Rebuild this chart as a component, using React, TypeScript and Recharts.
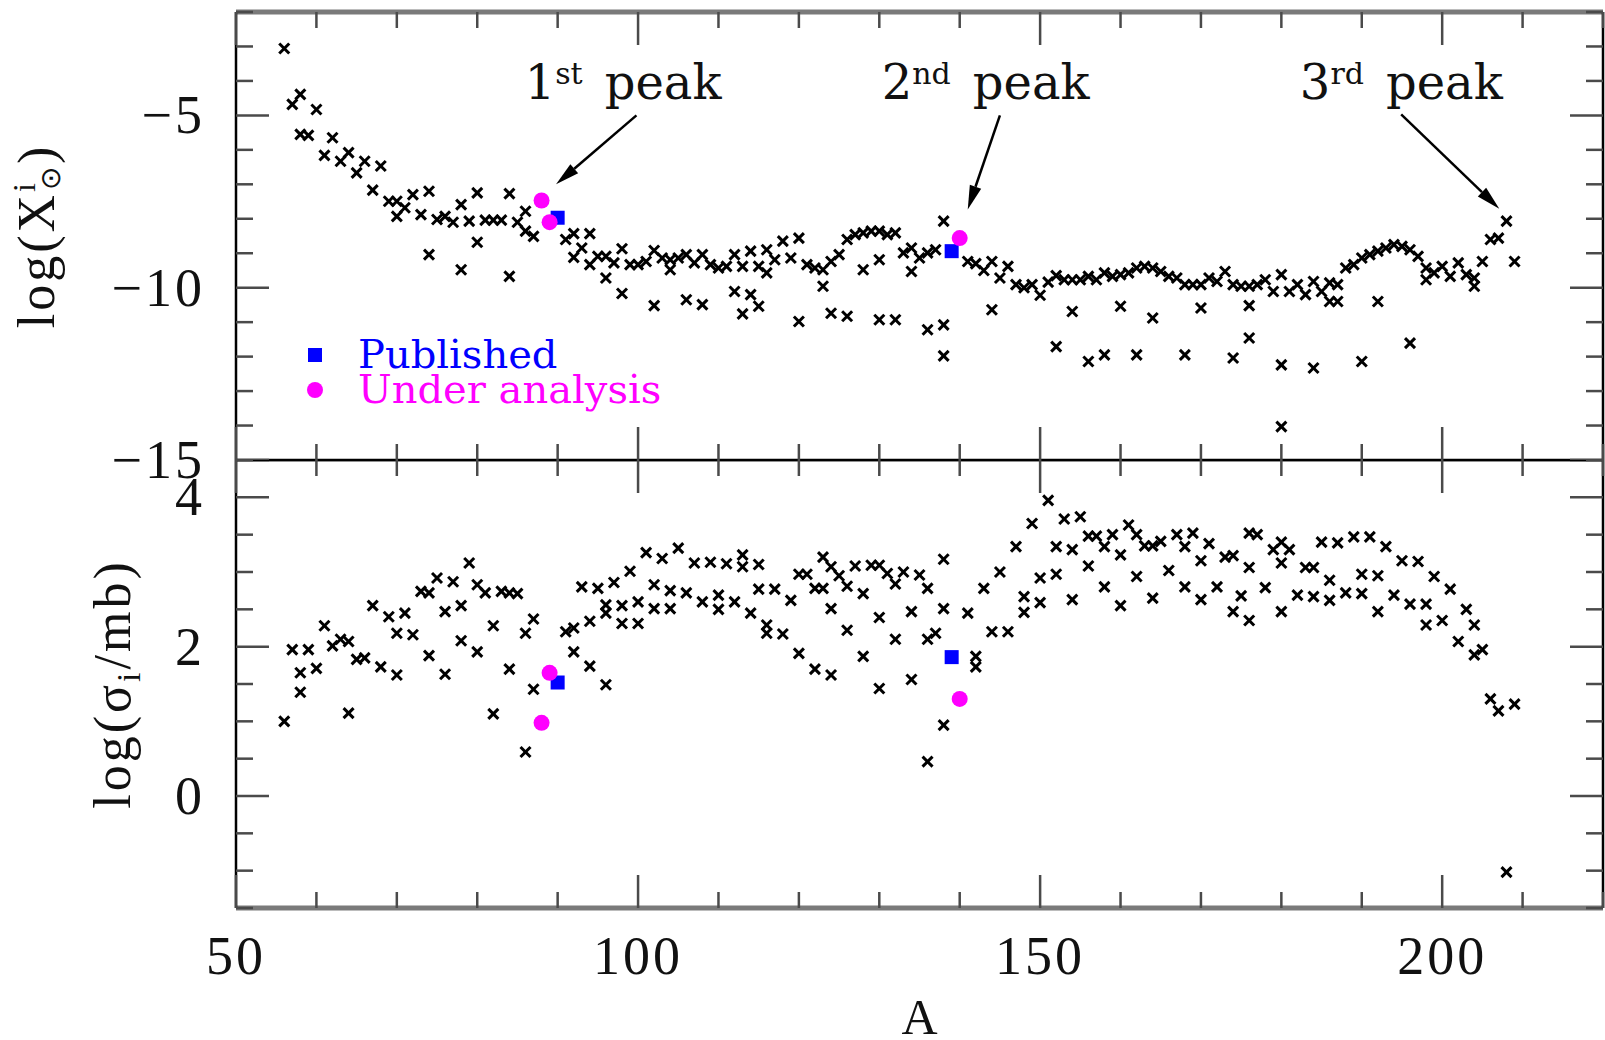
import React from 'react';
import { ScatterChart, Scatter, XAxis, YAxis, ReferenceLine, ReferenceDot, Legend } from 'recharts';

// ---- ticks ----
const xTicks = [50, 60, 70, 80, 90, 100, 110, 120, 130, 140, 150, 160, 170, 180, 190, 200, 210, 220];
const xLabelTicks = [50, 100, 150, 200];
const topYTicks = [-15, -14, -13, -12, -11, -10, -9, -8, -7, -6, -5, -4, -3, -2];
const topYLabels = [-15, -10, -5];
const bottomYTicks = [-1.5, -1, -0.5, 0, 0.5, 1, 1.5, 2, 2.5, 3, 3.5, 4, 4.5];
const bottomYLabels = [0, 2, 4];

// ---- top panel: log(X) solar abundances, [A, value] ----
const solarAbundance: [number, number][] = [
  [56, -3.06], [57, -4.68], [58, -4.39], [58, -5.55], [59, -5.58], [60, -4.83], [61, -6.16], [62, -5.65],
  [63, -6.33], [64, -6.08], [65, -6.67], [66, -6.33], [67, -7.17], [68, -6.47], [69, -7.49], [70, -7.49],
  [70, -7.93], [71, -7.68], [72, -7.3], [73, -7.88], [74, -7.2], [74, -9.04], [75, -8.02], [76, -7.93],
  [77, -8.1], [78, -7.59], [78, -9.48], [79, -8.07], [80, -7.25], [80, -8.68], [81, -8.04], [82, -8.04],
  [83, -8.04], [84, -7.27], [84, -9.67], [85, -8.1], [86, -7.78], [86, -8.36], [87, -8.51], [91, -8.6],
  [92, -8.43], [92, -9.12], [93, -8.85], [94, -8.43], [94, -9.33], [95, -9.09], [96, -9.09], [96, -9.72],
  [97, -9.28], [98, -8.87], [98, -10.17], [99, -9.33], [100, -9.33], [101, -9.24], [102, -8.92], [102, -10.52],
  [103, -9.14], [104, -9.19], [104, -9.48], [105, -9.14], [106, -9.04], [106, -10.35], [107, -9.28], [108, -9.04],
  [108, -10.49], [109, -9.33], [110, -9.43], [111, -9.38], [112, -9.04], [112, -10.11], [113, -9.38], [113, -10.76],
  [114, -8.94], [114, -10.2], [115, -9.38], [115, -10.54], [116, -8.9], [116, -9.57], [117, -9.19], [118, -8.65],
  [119, -9.14], [120, -8.56], [120, -10.98], [121, -9.33], [122, -9.43], [123, -9.48], [123, -9.96], [124, -9.24],
  [124, -10.74], [125, -9.04], [126, -8.6], [126, -10.83], [127, -8.46], [128, -8.41], [128, -9.48], [129, -8.36],
  [130, -8.36], [130, -9.19], [130, -10.93], [131, -8.46], [132, -8.41], [132, -10.93], [133, -8.99], [134, -8.85],
  [134, -9.53], [135, -9.14], [136, -8.99], [136, -11.22], [137, -8.9], [138, -8.07], [138, -11.08], [138, -11.98],
  [141, -9.24], [142, -9.3], [143, -9.5], [144, -9.24], [144, -10.64], [145, -9.72], [146, -9.38], [147, -9.91],
  [148, -10.0], [149, -9.91], [150, -10.22], [151, -9.84], [152, -9.65], [152, -11.71], [153, -9.77], [154, -9.77],
  [154, -10.69], [155, -9.77], [156, -9.67], [156, -12.14], [157, -9.77], [158, -9.57], [158, -11.95], [159, -9.67],
  [160, -9.62], [160, -10.54], [161, -9.57], [162, -9.43], [162, -11.95], [163, -9.38], [164, -9.43], [164, -10.88],
  [165, -9.53], [166, -9.67], [167, -9.72], [168, -9.91], [168, -11.95], [169, -9.91], [170, -9.91], [170, -10.59],
  [171, -9.72], [172, -9.82], [173, -9.53], [174, -9.91], [174, -12.04], [175, -9.96], [176, -9.96], [176, -10.52],
  [176, -11.46], [177, -9.91], [178, -9.77], [179, -10.11], [180, -9.62], [180, -12.24], [180, -14.03], [181, -10.11],
  [182, -9.91], [183, -10.2], [184, -9.82], [184, -12.33], [185, -10.11], [186, -9.86], [186, -10.4], [187, -9.91],
  [187, -10.4], [188, -9.43], [189, -9.33], [190, -9.14], [190, -12.14], [191, -9.04], [192, -8.94], [192, -10.4],
  [193, -8.85], [194, -8.75], [195, -8.8], [196, -8.9], [196, -11.61], [197, -9.09], [198, -9.43], [198, -9.77],
  [199, -9.57], [200, -9.38], [201, -9.67], [202, -9.28], [203, -9.62], [204, -9.72], [204, -9.96], [205, -9.24],
  [206, -8.6], [207, -8.56], [208, -8.07], [209, -9.24],
];
const publishedAbundance: [number, number][] = [[90, -7.97], [139, -8.94]];
const analysisAbundance: [number, number][] = [[88, -7.47], [89, -8.1], [140, -8.56]];

// ---- bottom panel: log(sigma/mb), [A, value] ----
const macs: [number, number][] = [
  [56, 1.0], [57, 1.96], [58, 1.65], [58, 1.39], [59, 1.96], [60, 1.71], [61, 2.28], [62, 2.01], [63, 2.1],
  [64, 2.07], [64, 1.11], [65, 1.83], [66, 1.85], [67, 2.55], [68, 1.73], [69, 2.4], [70, 2.18], [70, 1.62],
  [71, 2.45], [72, 2.16], [73, 2.74], [74, 2.72], [74, 1.88], [75, 2.92], [76, 2.47], [76, 1.63], [77, 2.87],
  [78, 2.55], [78, 2.08], [79, 3.12], [80, 2.83], [80, 1.93], [81, 2.72], [82, 2.28], [82, 1.1], [83, 2.74],
  [84, 2.72], [84, 1.7], [85, 2.71], [86, 2.18], [86, 0.59], [87, 2.37], [87, 1.43], [91, 2.2], [92, 2.25],
  [92, 1.93], [93, 2.8], [94, 2.34], [94, 1.74], [95, 2.78], [96, 2.56], [96, 2.45], [96, 1.49], [97, 2.86],
  [98, 2.55], [98, 2.31], [99, 3.01], [100, 2.6], [100, 2.31], [101, 3.26], [102, 2.83], [102, 2.51], [103, 3.18],
  [104, 2.75], [104, 2.51], [105, 3.32], [106, 2.72], [107, 3.12], [108, 2.6], [109, 3.13], [110, 2.69], [110, 2.5],
  [111, 3.11], [112, 2.6], [113, 3.23], [113, 3.07], [114, 2.45], [115, 3.1], [115, 2.77], [116, 2.29], [116, 2.18],
  [117, 2.77], [118, 2.17], [119, 2.62], [120, 2.97], [120, 1.91], [121, 2.97], [122, 2.78], [122, 1.7], [123, 3.2],
  [123, 2.78], [124, 3.07], [124, 2.51], [124, 1.62], [125, 2.95], [126, 2.81], [126, 2.22], [127, 3.08], [128, 2.71],
  [128, 1.87], [129, 3.09], [130, 3.09], [130, 2.39], [130, 1.44], [131, 2.98], [132, 2.84], [132, 2.1], [133, 3.0],
  [134, 2.47], [134, 1.56], [135, 2.96], [136, 2.78], [136, 2.1], [136, 0.46], [137, 2.18], [138, 3.17], [138, 2.51],
  [138, 0.95], [141, 2.45], [142, 1.87], [142, 1.73], [143, 2.78], [144, 2.2], [145, 3.0], [146, 2.2], [147, 3.34],
  [148, 2.67], [148, 2.46], [149, 3.65], [150, 2.92], [150, 2.59], [151, 3.96], [152, 3.34], [152, 2.97], [153, 3.71],
  [154, 3.3], [154, 2.63], [155, 3.74], [156, 3.48], [156, 3.08], [157, 3.48], [158, 3.34], [158, 2.8], [159, 3.5],
  [160, 3.23], [160, 2.55], [161, 3.63], [162, 3.5], [162, 2.94], [163, 3.35], [164, 3.35], [164, 2.65], [165, 3.41],
  [166, 3.02], [167, 3.5], [168, 3.34], [168, 2.8], [169, 3.52], [170, 3.15], [170, 2.63], [171, 3.38], [172, 2.8],
  [173, 3.2], [174, 3.22], [174, 2.47], [175, 2.68], [176, 3.52], [176, 3.06], [176, 2.35], [177, 3.5], [178, 2.79],
  [179, 3.3], [180, 3.4], [180, 3.12], [180, 2.47], [181, 3.3], [182, 2.69], [183, 3.06], [184, 3.06], [184, 2.67],
  [185, 3.4], [186, 2.89], [186, 2.62], [187, 3.39], [188, 2.72], [189, 3.47], [190, 2.97], [190, 2.71], [191, 3.47],
  [192, 2.95], [192, 2.47], [193, 3.34], [194, 2.69], [195, 3.15], [196, 2.57], [197, 3.14], [198, 2.57], [198, 2.29],
  [199, 2.94], [200, 2.35], [201, 2.77], [202, 2.07], [203, 2.5], [204, 2.29], [204, 1.89], [205, 1.96], [206, 1.3],
  [207, 1.14], [208, -1.02], [209, 1.23],
];
const publishedMacs: [number, number][] = [[90, 1.52], [139, 1.86]];
const analysisMacs: [number, number][] = [[88, 0.98], [89, 1.65], [140, 1.3]];

// ---- annotations (data coordinates of the top panel) ----
const peakLabels = [
  { A: 85.9, logX: -4.53, ordinal: '1', suffix: 'st' },
  { A: 130.3, logX: -4.53, ordinal: '2', suffix: 'nd' },
  { A: 182.3, logX: -4.53, ordinal: '3', suffix: 'rd' },
];
const peakArrows = [
  { x1: 99.8, y1: -5.0, x2: 89.8, y2: -7.0 },
  { x1: 145.0, y1: -5.0, x2: 141.0, y2: -7.73 },
  { x1: 194.9, y1: -4.97, x2: 207.1, y2: -7.71 },
];
const legendNames = ['Published', 'Under analysis'];

// ---- layout ----
const W = 1605;
const PLOT_LEFT = 236;
const RIGHT_PAD = 2;
const PLOT_W = W - PLOT_LEFT - RIGHT_PAD;
const TOP_PAD = 12;
const PANEL_H = 448;
const TOP_H = 490;
const BOTTOM_H = 580;
const TICK_COLOR = '#4a4a4a';
const FRAME_GRAY = '#7a7a7a';

const toPoints = (arr: [number, number][]) => arr.map(([A, v]) => ({ A, v }));

const tickText = { fontFamily: 'Liberation Serif, serif', fontSize: 54, letterSpacing: 3, fill: '#111' };
const titleText = { fontFamily: 'Liberation Serif, serif', fontSize: 52, letterSpacing: 3, fill: '#111' };

const Cross = (p: any) => {
  const s = 5;
  return (
    <g stroke="#000" strokeWidth={3}>
      <line x1={p.cx - s} y1={p.cy - s} x2={p.cx + s} y2={p.cy + s} />
      <line x1={p.cx - s} y1={p.cy + s} x2={p.cx + s} y2={p.cy - s} />
    </g>
  );
};
const Square = (p: any) => <rect x={p.cx - 7} y={p.cy - 7} width={14} height={14} fill="#0000ff" />;
const Dot = (p: any) => <circle cx={p.cx} cy={p.cy} r={8} fill="#ff00ff" />;

const renderXTick = (withLabels: boolean) => (props: any) => {
  const { x, y, payload } = props;
  const v = payload.value;
  const major = v % 50 === 0;
  const len = major ? 33 : 16;
  return (
    <g>
      <line x1={x} x2={x} y1={y} y2={y - len} stroke={TICK_COLOR} strokeWidth={2.5} />
      <line x1={x} x2={x} y1={y - PANEL_H} y2={y - PANEL_H + len} stroke={TICK_COLOR} strokeWidth={2.5} />
      {withLabels && xLabelTicks.includes(v) && (
        <text x={x} y={y + 66} textAnchor="middle" style={tickText}>{v}</text>
      )}
    </g>
  );
};

const renderYTick = (labels: number[]) => (props: any) => {
  const { x, y, payload } = props;
  const v = payload.value;
  const major = labels.includes(v);
  const len = major ? 33 : 17;
  return (
    <g>
      <line x1={x} x2={x + len} y1={y} y2={y} stroke={TICK_COLOR} strokeWidth={2.5} />
      <line x1={x + PLOT_W} x2={x + PLOT_W - len} y1={y} y2={y} stroke={TICK_COLOR} strokeWidth={2.5} />
      {major && (
        <text x={x - 31} y={y + 18} textAnchor="end" style={tickText}>
          {v < 0 ? `\u2212${Math.abs(v)}` : v}
        </text>
      )}
    </g>
  );
};

const TopYTitle = (props: any) => {
  const vb = props.viewBox ?? { x: 0, y: TOP_PAD, width: PLOT_LEFT, height: PANEL_H };
  const bx = vb.x + 54;
  const cy = vb.y + vb.height / 2;
  return (
    <text x={bx} y={cy} transform={`rotate(-90 ${bx} ${cy})`} textAnchor="middle" style={titleText}>
      log(X<tspan fontSize={32} dy={-19}>i</tspan>
      <tspan fontSize={28} dx={-10} dy={25}>⊙</tspan>
      <tspan dy={-6}>)</tspan>
    </text>
  );
};

const BottomYTitle = (props: any) => {
  const vb = props.viewBox ?? { x: 0, y: 0, width: PLOT_LEFT, height: PANEL_H };
  const bx = vb.x + 130;
  const cy = vb.y + vb.height / 2;
  return (
    <text x={bx} y={cy} transform={`rotate(-90 ${bx} ${cy})`} textAnchor="middle" style={titleText}>
      log(σ<tspan fontSize={34} dy={10}>i</tspan>
      <tspan dy={-10}>/mb)</tspan>
    </text>
  );
};

const ArrowShape = (p: any) => {
  const { x1, y1, x2, y2 } = p;
  const ang = Math.atan2(y2 - y1, x2 - x1);
  const L = 24;
  const H = 6;
  const bx = x2 - L * Math.cos(ang);
  const by = y2 - L * Math.sin(ang);
  const pts = [
    `${x2},${y2}`,
    `${bx + H * Math.sin(ang)},${by - H * Math.cos(ang)}`,
    `${bx - H * Math.sin(ang)},${by + H * Math.cos(ang)}`,
  ].join(' ');
  return (
    <g>
      <line x1={x1} y1={y1} x2={bx} y2={by} stroke="#000" strokeWidth={2.5} />
      <polygon points={pts} fill="#000" />
    </g>
  );
};

const peakShape = (label: { ordinal: string; suffix: string }) => (p: any) => (
  <text x={p.cx} y={p.cy} style={{ fontFamily: 'DejaVu Serif, serif', fontSize: 48, fill: '#111' }}>
    {label.ordinal}
    <tspan fontSize={30} dy={-15}>{label.suffix}</tspan>
    <tspan dy={15} dx={22}>peak</tspan>
  </text>
);

const renderLegend = (props: any) => {
  const items = (props.payload ?? []).filter((e: any) => legendNames.includes(e.value));
  return (
    <div>
      {items.map((e: any) => (
        <div key={e.value} style={{ display: 'flex', alignItems: 'center', height: 35 }}>
          <div style={{ width: 30, display: 'flex', justifyContent: 'center' }}>
            {e.value === 'Published' ? (
              <div style={{ width: 14, height: 14, background: e.color }} />
            ) : (
              <div style={{ width: 16, height: 16, borderRadius: 8, background: e.color }} />
            )}
          </div>
          <span
            style={{
              marginLeft: 28,
              fontFamily: 'DejaVu Serif, serif',
              fontSize: 40,
              lineHeight: '35px',
              color: e.color,
              whiteSpace: 'nowrap',
            }}
          >
            {e.value}
          </span>
        </div>
      ))}
    </div>
  );
};

export default function App() {
  return (
    <div style={{ position: 'absolute', left: 0, top: 0, width: W, height: 1040, background: '#fff', overflow: 'hidden' }}>
      <div style={{ position: 'absolute', left: 0, top: 0 }}>
        <ScatterChart width={W} height={TOP_H} margin={{ top: TOP_PAD, right: RIGHT_PAD, bottom: 0, left: 0 }}>
          <XAxis
            type="number"
            dataKey="A"
            domain={[50, 220]}
            allowDataOverflow
            ticks={xTicks}
            interval={0}
            tickSize={0}
            tickMargin={0}
            tickLine={false}
            height={TOP_H - TOP_PAD - PANEL_H}
            axisLine={{ stroke: '#000', strokeWidth: 2.5 }}
            tick={renderXTick(false)}
          />
          <YAxis
            type="number"
            dataKey="v"
            domain={[-15, -2]}
            allowDataOverflow
            ticks={topYTicks}
            interval={0}
            tickSize={0}
            tickMargin={0}
            tickLine={false}
            width={PLOT_LEFT}
            axisLine={{ stroke: '#000', strokeWidth: 2.5 }}
            tick={renderYTick(topYLabels)}
            label={(p: any) => <TopYTitle {...p} />}
          />
          <ReferenceLine y={-2} stroke={FRAME_GRAY} strokeWidth={5} />
          <ReferenceLine x={220} stroke="#000" strokeWidth={2.5} />
          {peakArrows.map((a, i) => (
            <ReferenceLine
              key={`arrow-${i}`}
              segment={[{ x: a.x1, y: a.y1 }, { x: a.x2, y: a.y2 }]}
              ifOverflow="visible"
              shape={ArrowShape}
            />
          ))}
          {peakLabels.map((l, i) => (
            <ReferenceDot key={`peak-${i}`} x={l.A} y={l.logX} r={1} ifOverflow="visible" shape={peakShape(l)} />
          ))}
          <Scatter data={toPoints(solarAbundance)} shape={Cross} legendType="none" isAnimationActive={false} />
          <Scatter name="Published" data={toPoints(publishedAbundance)} fill="#0000ff" shape={Square} isAnimationActive={false} />
          <Scatter name="Under analysis" data={toPoints(analysisAbundance)} fill="#ff00ff" shape={Dot} isAnimationActive={false} />
          <Legend
            layout="vertical"
            align="center"
            verticalAlign="middle"
            wrapperStyle={{ left: 300, top: 337, width: 420, height: 70 }}
            content={renderLegend}
          />
        </ScatterChart>
      </div>
      <div style={{ position: 'absolute', left: 0, top: TOP_PAD + PANEL_H }}>
        <ScatterChart width={W} height={BOTTOM_H} margin={{ top: 0, right: RIGHT_PAD, bottom: 0, left: 0 }}>
          <XAxis
            type="number"
            dataKey="A"
            domain={[50, 220]}
            allowDataOverflow
            ticks={xTicks}
            interval={0}
            tickSize={0}
            tickMargin={0}
            tickLine={false}
            height={BOTTOM_H - PANEL_H}
            axisLine={false}
            tick={renderXTick(true)}
            label={(p: any) => {
              const vb = p.viewBox ?? { x: PLOT_LEFT, y: PANEL_H, width: PLOT_W, height: BOTTOM_H - PANEL_H };
              return (
                <text x={921} y={vb.y + 126} textAnchor="middle" style={{ ...titleText, fontSize: 50 }}>
                  A
                </text>
              );
            }}
          />
          <YAxis
            type="number"
            dataKey="v"
            domain={[-1.5, 4.5]}
            allowDataOverflow
            ticks={bottomYTicks}
            interval={0}
            tickSize={0}
            tickMargin={0}
            tickLine={false}
            width={PLOT_LEFT}
            axisLine={{ stroke: '#000', strokeWidth: 2.5 }}
            tick={renderYTick(bottomYLabels)}
            label={(p: any) => <BottomYTitle {...p} />}
          />
          <ReferenceLine y={4.5} stroke="#000" strokeWidth={2.5} />
          <ReferenceLine y={-1.5} stroke={FRAME_GRAY} strokeWidth={5} />
          <ReferenceLine x={220} stroke="#000" strokeWidth={2.5} />
          <Scatter data={toPoints(macs)} shape={Cross} legendType="none" isAnimationActive={false} />
          <Scatter name="Published" data={toPoints(publishedMacs)} fill="#0000ff" shape={Square} isAnimationActive={false} />
          <Scatter name="Under analysis" data={toPoints(analysisMacs)} fill="#ff00ff" shape={Dot} isAnimationActive={false} />
        </ScatterChart>
      </div>
    </div>
  );
}
